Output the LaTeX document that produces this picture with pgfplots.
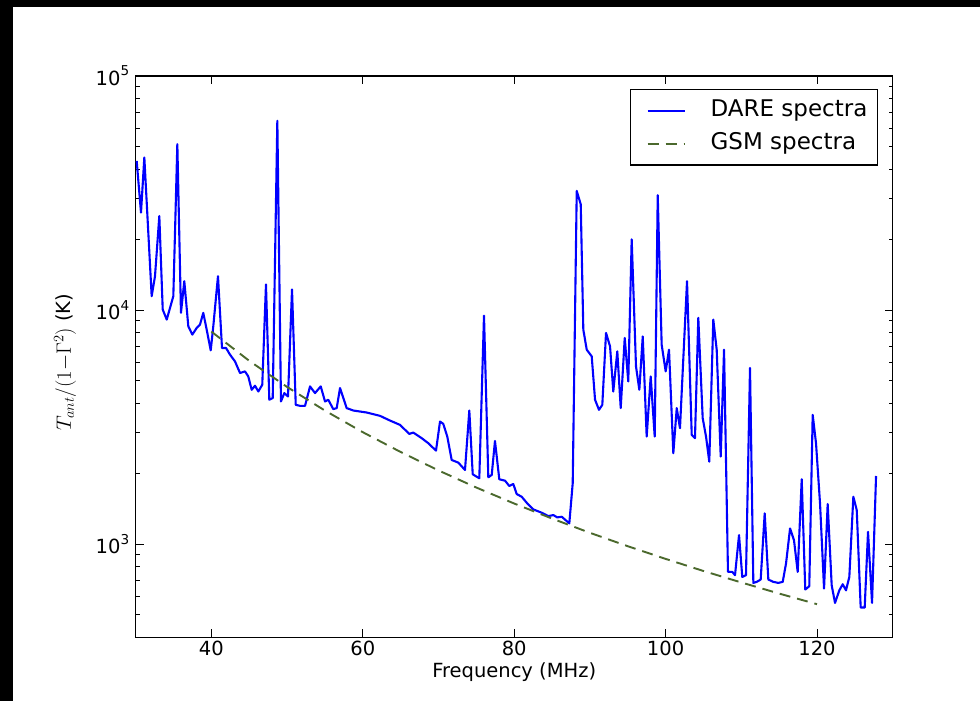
\documentclass[border=0pt]{standalone}
\usepackage{fontspec}
\setmainfont{DejaVu Sans}
\usepackage{pgfplots}
\usepackage{pgfplotstable}
\pgfplotsset{compat=1.18}
\definecolor{gsm}{RGB}{75,105,45}
\pgfplotstableread{
f T
30.13 43350
30.70 26070
31.14 44860
32.11 11460
32.55 13960
33.12 25220
33.57 10050
34.10 9107
34.97 11460
35.50 51140
35.98 9727
36.42 13290
36.95 8523
37.48 7856
38.06 8390
38.49 8668
38.93 9727
39.46 7989
39.91 6727
40.25 8523
40.87 13960
41.40 6889
41.93 6889
42.46 6448
43.12 6035
43.78 5383
44.44 5470
44.87 5206
45.32 4565
45.76 4750
46.20 4489
46.72 4797
47.21 12860
47.65 4138
48.10 4207
48.71 64370
49.19 4069
49.63 4419
50.12 4274
50.65 12240
51.14 3938
51.70 3899
52.37 3899
53.03 4718
53.69 4419
54.44 4718
55.01 4069
55.44 4138
56.10 3775
56.55 3812
56.99 4643
57.87 3812
58.75 3723
60.52 3650
62.27 3533
63.59 3373
64.91 3233
66.14 2958
66.67 2996
67.78 2836
68.65 2699
69.67 2509
70.20 3341
70.63 3265
71.16 2881
71.74 2289
72.62 2229
73.50 2074
74.07 3723
74.52 1988
75.39 1911
76.01 9472
76.58 1930
77.03 1975
77.46 2761
78.03 1893
78.79 1867
79.35 1772
79.88 1807
80.33 1637
80.99 1594
81.65 1503
82.52 1408
83.63 1362
84.50 1318
85.17 1331
85.69 1301
86.28 1309
87.28 1227
87.73 1820
88.26 32280
88.79 28300
89.13 8250
89.58 6774
90.24 6341
90.68 4138
91.20 3749
91.64 3938
92.13 7989
92.66 6998
93.09 4489
93.62 6663
94.07 3812
94.60 7603
95.07 4955
95.52 20050
96.09 5745
96.53 4565
96.98 7723
97.50 2881
98.03 5206
98.56 2881
98.96 30940
99.48 7115
100.01 5470
100.45 6774
101.02 2445
101.47 3812
101.90 3129
102.83 13290
103.45 2930
103.88 2836
104.32 9262
104.90 3453
105.34 2881
105.77 2251
106.30 9107
106.75 6774
107.28 2365
107.72 6774
108.24 761
108.81 761
109.17 737
109.70 1093
110.13 724
110.62 737
111.15 5655
111.59 683
112.04 690
112.56 706
113.09 1354
113.57 706
114.23 690
114.89 683
115.47 690
115.91 827
116.44 1167
116.96 1040
117.45 761
117.98 1893
118.45 640
118.98 661
119.43 3568
119.87 2699
120.40 1494
120.93 646
121.41 1484
121.94 667
122.38 561
122.95 635
123.40 674
123.83 635
124.27 724
124.80 1594
125.25 1398
125.77 536
126.30 536
126.74 1129
127.27 561
127.80 1955
}\dare
\pgfplotstableread{
f T
40 8090
45 6069
50 4693
55 3720
60 3008
65 2475
70 2065
75 1745
80 1491
85 1286
90 1118
95 980
100 865
105 768
110 686
115 615
120 554
}\gsmtab
\begin{document}
\begin{tikzpicture}
\fill[black] (0pt,0pt) rectangle (980pt,701pt);
\fill[white] (13pt,0pt) rectangle (980pt,694pt);
\useasboundingbox (0pt,0pt) rectangle (980pt,701pt);
\begin{axis}[
  at={(135.7pt,63.7pt)}, anchor=south west,
  scale only axis, width=757pt, height=561.3pt,
  xmin=30, xmax=130, ymode=log, ymin=400, ymax=100000,
  xtick={40,60,80,100,120}, xticklabels={40,60,80,100,120},
  minor xtick={},
  ytick={1000,10000,100000},
  yticklabels={10\raisebox{0.5em}{\fontsize{13.6}{16}\selectfont 3},10\raisebox{0.5em}{\fontsize{13.6}{16}\selectfont 4},10\raisebox{0.5em}{\fontsize{13.6}{16}\selectfont 5}},
  minor ytick={400,500,600,700,800,900,2000,3000,4000,5000,6000,7000,8000,9000,20000,30000,40000,50000,60000,70000,80000,90000},
  tick align=inside,
  major tick length=8pt, minor tick length=4pt,
  every tick/.style={black, line width=0.8pt},
  axis line style={line width=1.2pt},
  ticklabel style={font=\fontsize{19.5}{23}\selectfont},
  yticklabel style={xshift=-3pt},
  xlabel={Frequency (MHz)},
  xlabel style={font=\fontsize{19.5}{23}\selectfont, at={(axis description cs:0.5,-0.0624)}, anchor=center},
  ylabel={$T_{ant}/(1{-}\Gamma^2)$ (K)},
  ylabel style={font=\fontsize{19.5}{23}\selectfont, at={(axis description cs:-0.0934,0.49)}, anchor=center},
  legend style={at={(axis description cs:0.981,0.9768)}, anchor=north east, draw=black, fill=white, line width=1.2pt,
    inner xsep=10.3pt, inner ysep=10pt, font=\fontsize{23}{27}\selectfont, row sep=11.4pt, column sep=25pt,
    nodes={inner xsep=0pt, inner ysep=0pt, text height=17pt, text depth=5pt}},
  legend cell align=left,
  legend image code/.code={\path (0pt,0pt); \draw[#1] (5.7pt,0pt) -- (42.7pt,0pt);},
]
\addplot[blue, line width=2.1pt, line join=round] table[x=f, y=T] {\dare};
\addplot[gsm, line width=1.9pt, dash pattern=on 11pt off 7pt] table[x=f, y=T] {\gsmtab};
\legend{DARE spectra, GSM spectra}
\end{axis}
\end{tikzpicture}
\end{document}
